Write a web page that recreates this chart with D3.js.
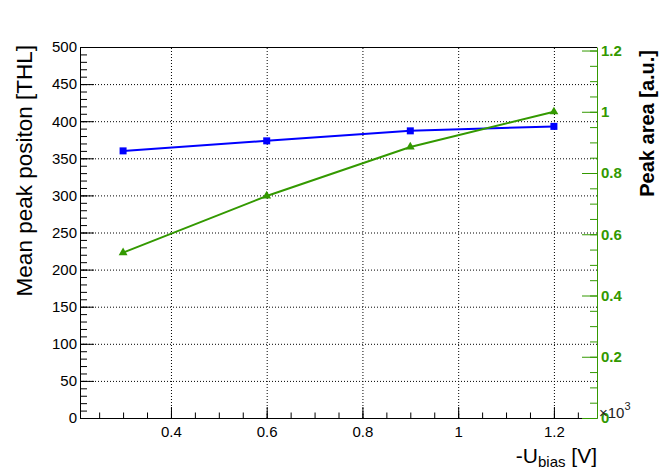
<!DOCTYPE html>
<html>
<head>
<meta charset="utf-8">
<script src="https://cdn.jsdelivr.net/npm/d3@7"></script>
<style>
  html, body { margin: 0; padding: 0; background: #fff; }
  svg { display: block; font-family: "Liberation Sans", Arial, Helvetica, sans-serif; }
</style>
</head>
<body>
<svg id="chart" width="664" height="476"></svg>
<script>
// ---- data ----
const biasV = [0.3, 0.6, 0.9, 1.2];
const meanPeak = [360, 373.5, 387, 393];
const peakArea = [0.54, 0.725, 0.885, 1.0];

const xMajorTicks = [0.4, 0.6, 0.8, 1.0, 1.2];
const xTickLabels = ["0.4", "0.6", "0.8", "1", "1.2"];
const yLeftTicks = [0, 50, 100, 150, 200, 250, 300, 350, 400, 450, 500];
const yRightTicks = [0, 0.2, 0.4, 0.6, 0.8, 1.0, 1.2];
const yRightLabels = ["0", "0.2", "0.4", "0.6", "0.8", "1", "1.2"];

const leftTitle = "Mean peak positon [THL]";
const rightTitle = "Peak area [a.u.]";

const blue = "#0000ff";
const green = "#339900";

// ---- layout ----
const L = 80, R = 597, T = 47, B = 418;
const svg = d3.select("#chart");

const x = d3.scaleLinear().domain([0.21, 1.29]).range([L, R]);
const yL = d3.scaleLinear().domain([0, 500]).range([B, T]);
const yR = d3.scaleLinear().domain([0, 1.2115]).range([B, T]);

// ---- grid ----
const grid = svg.append("g");
grid.append("g").attr("transform", `translate(0,${B})`)
  .call(d3.axisBottom(x).tickValues(xMajorTicks).tickSize(-(B - T)).tickFormat(""))
  .call(g => g.select(".domain").remove())
  .call(g => g.selectAll("line").attr("stroke", "#000").attr("stroke-dasharray", "1,2"));
grid.append("g").attr("transform", `translate(${L},0)`)
  .call(d3.axisLeft(yL).tickValues(yLeftTicks.filter(v => v > 0 && v < 500)).tickSize(-(R - L)).tickFormat(""))
  .call(g => g.select(".domain").remove())
  .call(g => g.selectAll("line").attr("stroke", "#000").attr("stroke-dasharray", "1,2"));

// ---- frame top ----
svg.append("line").attr("x1", L).attr("x2", R).attr("y1", T + 0.5).attr("y2", T + 0.5)
  .attr("stroke", "#000").attr("stroke-width", 1);

// ---- bottom axis ----
const xMinor = d3.range(0.25, 1.2501, 0.05);
const gx = svg.append("g").attr("transform", `translate(0,${B})`);
gx.append("g")
  .call(d3.axisBottom(x).tickValues(xMinor).tickSize(-5.5).tickSizeOuter(0).tickFormat(""))
  .call(g => g.selectAll(".tick line").attr("stroke", "#000"))
  .call(g => g.select(".domain").attr("stroke", "#000"));
gx.append("g")
  .call(d3.axisBottom(x).tickValues(xMajorTicks).tickSize(-11).tickSizeOuter(0)
    .tickFormat((d, i) => xTickLabels[i]))
  .call(g => g.select(".domain").remove())
  .call(g => g.selectAll(".tick line").attr("stroke", "#000"))
  .call(g => g.selectAll(".tick text").attr("font-size", 15).attr("fill", "#000").attr("y", 8).attr("dy", "0.71em"));

// ---- left axis ----
const yMinor = d3.range(0, 501, 10);
const gy = svg.append("g").attr("transform", `translate(${L},0)`);
gy.append("g")
  .call(d3.axisLeft(yL).tickValues(yMinor).tickSize(-7).tickSizeOuter(0).tickFormat(""))
  .call(g => g.selectAll(".tick line").attr("stroke", "#000"))
  .call(g => g.select(".domain").attr("stroke", "#000"));
gy.append("g")
  .call(d3.axisLeft(yL).tickValues(yLeftTicks).tickSize(-14).tickSizeOuter(0))
  .call(g => g.select(".domain").remove())
  .call(g => g.selectAll(".tick line").attr("stroke", "#000"))
  .call(g => g.selectAll(".tick text").attr("font-size", 15).attr("fill", "#000").attr("x", -3));

// ---- right axis ----
const yRMinor = d3.range(0, 1.2001, 0.05);
const gr = svg.append("g").attr("transform", `translate(${R},0)`);
gr.append("g")
  .call(d3.axisRight(yR).tickValues(yRMinor).tickSize(-7).tickSizeOuter(0).tickFormat(""))
  .call(g => g.selectAll(".tick line").attr("stroke", green))
  .call(g => g.select(".domain").attr("stroke", green));
gr.append("g")
  .call(d3.axisRight(yR).tickValues(yRightTicks).tickSize(-15).tickSizeOuter(0)
    .tickFormat((d, i) => yRightLabels[i]))
  .call(g => g.select(".domain").remove())
  .call(g => g.selectAll(".tick line").attr("stroke", green))
  .call(g => g.selectAll(".tick text").attr("font-size", 15).attr("font-weight", "bold")
    .attr("fill", green).attr("x", 4));

// ×10^3
const ex = svg.append("text").attr("x", 599).attr("y", 418).attr("font-size", 15).attr("fill", "#222");
ex.append("tspan").text("\u00d710");
ex.append("tspan").attr("font-size", 11).attr("dy", -8).text("3");

// ---- lines ----
const lineL = d3.line().x((d, i) => x(biasV[i])).y(d => yL(d));
const lineR = d3.line().x((d, i) => x(biasV[i])).y(d => yR(d));

svg.append("path").datum(meanPeak).attr("d", lineL)
  .attr("fill", "none").attr("stroke", blue).attr("stroke-width", 2);
svg.append("path").datum(peakArea).attr("d", lineR)
  .attr("fill", "none").attr("stroke", green).attr("stroke-width", 2);

svg.append("g").selectAll("rect").data(meanPeak).join("rect")
  .attr("x", (d, i) => x(biasV[i]) - 3.5).attr("y", d => yL(d) - 3.5)
  .attr("width", 7).attr("height", 7).attr("fill", blue);

const tri = d3.symbol().type(d3.symbolTriangle).size(34);
svg.append("g").selectAll("path").data(peakArea).join("path")
  .attr("transform", (d, i) => `translate(${x(biasV[i])},${yR(d)})`)
  .attr("d", tri).attr("fill", green);

// ---- titles ----
svg.append("text")
  .attr("transform", `translate(32,45) rotate(-90)`)
  .attr("text-anchor", "end").attr("font-size", 22.5).attr("fill", "#000")
  .text(leftTitle);

svg.append("text")
  .attr("transform", `translate(654,50) rotate(-90)`)
  .attr("text-anchor", "end").attr("font-size", 20).attr("font-weight", "bold").attr("fill", "#000")
  .text(rightTitle);

const xt = svg.append("text").attr("x", 597).attr("y", 463).attr("text-anchor", "end")
  .attr("font-size", 21).attr("fill", "#000");
xt.append("tspan").text("-U");
xt.append("tspan").attr("font-size", 15).attr("dy", 4).text("bias");
xt.append("tspan").attr("dy", -4).text(" [V]");
</script>
</body>
</html>
